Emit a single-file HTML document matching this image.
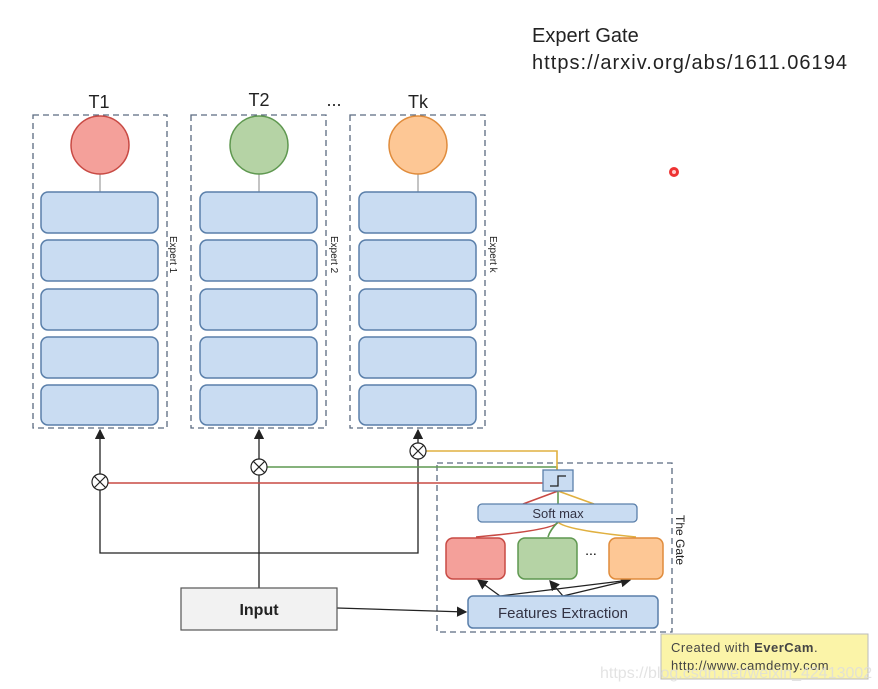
<html><body style="margin:0;background:#fff">
<svg width="878" height="689" xmlns="http://www.w3.org/2000/svg" font-family="Liberation Sans, sans-serif">
<defs><marker id="a" markerWidth="8" markerHeight="8" refX="7" refY="4" orient="auto"><path d="M0,0L8,4L0,8z" fill="#222"/></marker></defs>
<text x="532" y="42" font-size="20" fill="#222">Expert Gate</text>
<text x="532" y="69" font-size="20" fill="#222" textLength="315">https://arxiv.org/abs/1611.06194</text>
<circle cx="674" cy="172" r="5" fill="#e33"/><circle cx="674" cy="172" r="2" fill="#fcc"/>
<g stroke="#5a6a80" stroke-dasharray="6,4" fill="none" stroke-width="1.3">
<rect x="33" y="115" width="134" height="313"/><rect x="191" y="115" width="135" height="313"/><rect x="350" y="115" width="135" height="313"/>
<rect x="437" y="463" width="235" height="169"/></g>
<g font-size="18" text-anchor="middle" fill="#222"><text x="99" y="108">T1</text><text x="259" y="106">T2</text><text x="418" y="108">Tk</text><text x="334" y="106">...</text></g>
<g stroke="#888"><line x1="100" y1="173" x2="100" y2="192"/><line x1="259" y1="173" x2="259" y2="192"/><line x1="418" y1="173" x2="418" y2="192"/></g>
<circle cx="100" cy="145" r="29" fill="#f4a09a" stroke="#c84a44" stroke-width="1.5"/>
<circle cx="259" cy="145" r="29" fill="#b5d3a5" stroke="#5f9850" stroke-width="1.5"/>
<circle cx="418" cy="145" r="29" fill="#fdc795" stroke="#e08c3c" stroke-width="1.5"/>
<g fill="#c9dcf2" stroke="#5a7faa" stroke-width="1.5">
<rect x="41" y="192" width="117" height="41" rx="7"/><rect x="41" y="240" width="117" height="41" rx="7"/><rect x="41" y="289" width="117" height="41" rx="7"/><rect x="41" y="337" width="117" height="41" rx="7"/><rect x="41" y="385" width="117" height="40" rx="7"/>
<rect x="200" y="192" width="117" height="41" rx="7"/><rect x="200" y="240" width="117" height="41" rx="7"/><rect x="200" y="289" width="117" height="41" rx="7"/><rect x="200" y="337" width="117" height="41" rx="7"/><rect x="200" y="385" width="117" height="40" rx="7"/>
<rect x="359" y="192" width="117" height="41" rx="7"/><rect x="359" y="240" width="117" height="41" rx="7"/><rect x="359" y="289" width="117" height="41" rx="7"/><rect x="359" y="337" width="117" height="41" rx="7"/><rect x="359" y="385" width="117" height="40" rx="7"/>
</g>
<g font-size="10" fill="#222"><text transform="translate(170,236) rotate(90)">Expert 1</text><text transform="translate(331,236) rotate(90)">Expert 2</text><text transform="translate(490,236) rotate(90)">Expert k</text><text transform="translate(676,515) rotate(90)" font-size="12">The Gate</text></g>
<g stroke="#222" stroke-width="1.3" fill="none">
<line x1="100" y1="474" x2="100" y2="430" marker-end="url(#a)"/><line x1="259" y1="459" x2="259" y2="430" marker-end="url(#a)"/><line x1="418" y1="443" x2="418" y2="430" marker-end="url(#a)"/>
<polyline points="100,490 100,553 418,553 418,459"/><line x1="259" y1="475" x2="259" y2="588"/>
<line x1="337" y1="608" x2="466" y2="612" marker-end="url(#a)"/>
<line x1="500" y1="596" x2="478" y2="580" marker-end="url(#a)"/><line x1="563" y1="596" x2="550" y2="581" marker-end="url(#a)"/><line x1="563" y1="596" x2="630" y2="580" marker-end="url(#a)"/><line x1="500" y1="596" x2="630" y2="580"/>
</g>
<g stroke-width="1.6" fill="none">
<polyline points="108,483 543,483" stroke="#c84a44"/><polyline points="267,467 557,467 557,470" stroke="#5f9850"/><polyline points="426,451 557,451 557,470" stroke="#e0b040"/>
<path d="M523,504 L558,491" stroke="#c84a44"/><path d="M558,491 V504" stroke="#5f9850"/><path d="M558,491 L594,504" stroke="#e0b040"/>
<path d="M558,522 Q555,530 476,537" stroke="#c84a44"/><path d="M558,522 Q550,530 548,537" stroke="#5f9850"/><path d="M558,522 Q565,530 636,537" stroke="#e0b040"/>
</g>
<g fill="#fff" stroke="#222" stroke-width="1.2"><circle cx="100" cy="482" r="8"/><circle cx="259" cy="467" r="8"/><circle cx="418" cy="451" r="8"/>
<path d="M94,476l12,12M106,476l-12,12M253,461l12,12M265,461l-12,12M412,445l12,12M424,445l-12,12"/></g>
<rect x="543" y="470" width="30" height="21" fill="#c9dcf2" stroke="#5a7faa" stroke-width="1.3"/>
<path d="M550,486h8v-10h8" stroke="#222" fill="none" stroke-width="1.3"/>
<rect x="478" y="504" width="159" height="18" rx="4" fill="#c9dcf2" stroke="#5a7faa" stroke-width="1.3"/>
<text x="558" y="518" font-size="13" text-anchor="middle" fill="#334">Soft max</text>
<rect x="446" y="538" width="59" height="41" rx="7" fill="#f4a09a" stroke="#c84a44" stroke-width="1.5"/>
<rect x="518" y="538" width="59" height="41" rx="7" fill="#b5d3a5" stroke="#5f9850" stroke-width="1.5"/>
<rect x="609" y="538" width="54" height="41" rx="7" fill="#fdc795" stroke="#e08c3c" stroke-width="1.5"/>
<text x="591" y="555" font-size="14" text-anchor="middle">...</text>
<rect x="468" y="596" width="190" height="32" rx="5" fill="#c9dcf2" stroke="#5a7faa" stroke-width="1.5"/>
<text x="563" y="618" font-size="15" text-anchor="middle" fill="#334">Features Extraction</text>
<rect x="181" y="588" width="156" height="42" fill="#f2f2f2" stroke="#555" stroke-width="1.2"/>
<text x="259" y="615" font-size="16" font-weight="bold" text-anchor="middle" fill="#222">Input</text>
<rect x="661" y="634" width="207" height="45" fill="#fbf4a8" stroke="#bbb"/>
<text x="671" y="652" font-size="13" fill="#444" letter-spacing=".5">Created with <tspan font-weight="bold">EverCam</tspan>.</text>
<text x="671" y="670" font-size="13" fill="#444" letter-spacing=".5">http://www.camdemy.com</text>
<text x="600" y="678" font-size="16" fill="#ddd" opacity=".8">https://blog.csdn.net/weixin_42413002</text>
</svg></body></html>
